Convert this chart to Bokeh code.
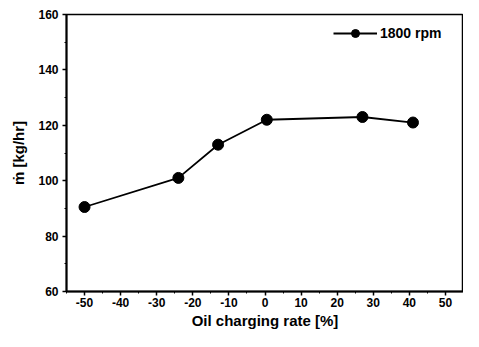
from bokeh.plotting import figure
from bokeh.models import Range1d, FixedTicker, Legend, LegendItem
from bokeh.embed import file_html
from bokeh.resources import INLINE

oil_rate = [-50, -24, -13, 0.5, 27, 41]
mass_flow = [90.5, 101, 113, 122, 123, 121]
x_ticks = [-50, -40, -30, -20, -10, 0, 10, 20, 30, 40, 50]
x_tick_labels = ["-50", "-40", "-30", "-20", "-10", "0", "10", "20", "30", "40", "50"]
y_ticks = [60, 80, 100, 120, 140, 160]

p = figure(width=463, height=331, output_backend="svg", toolbar_location=None,
           x_range=Range1d(-55, 55), y_range=Range1d(60, 160),
           min_border_left=66, min_border_right=0, min_border_top=14, min_border_bottom=36)
p.background_fill_color = "white"
p.border_fill_color = "white"
p.outline_line_color = "black"
p.outline_line_width = 1.5
p.xgrid.visible = False
p.ygrid.visible = False

font = "Liberation Sans"
for ax in (p.xaxis[0], p.yaxis[0]):
    ax.axis_line_width = 2
    ax.major_tick_line_width = 1.5
    ax.minor_tick_line_width = 1
    ax.major_tick_out = 4
    ax.major_tick_in = 0
    ax.minor_tick_out = 2
    ax.minor_tick_in = 0
    ax.major_label_text_font = font
    ax.major_label_text_font_style = "bold"
    ax.major_label_text_font_size = "12px"
    ax.major_label_text_color = "black"
    ax.axis_label_text_font = font
    ax.axis_label_text_font_style = "bold"
    ax.axis_label_text_font_size = "15px"
    ax.axis_label_text_color = "black"

p.xaxis.ticker = FixedTicker(ticks=x_ticks, minor_ticks=list(range(-55, 56, 5)))
p.yaxis.ticker = FixedTicker(ticks=y_ticks, minor_ticks=list(range(60, 161, 10)))
p.xaxis.major_label_overrides = {t: s for t, s in zip(x_ticks, x_tick_labels)}
p.xaxis.axis_label = "Oil charging rate [%]"
p.yaxis.axis_label = "ṁ [kg/hr]"
p.xaxis.major_label_standoff = 2
p.yaxis.major_label_standoff = 4
p.xaxis.axis_label_standoff = 2
p.yaxis.axis_label_standoff = 8

ln = p.line(oil_rate, mass_flow, line_color="black", line_width=1.8)
sc = p.scatter(oil_rate, mass_flow, size=11, fill_color="black", line_color="black")

legend = Legend(items=[LegendItem(label="1800 rpm", renderers=[ln, sc])],
                location=(267, 248), border_line_color=None, background_fill_alpha=0,
                label_text_font=font, label_text_font_style="bold", label_text_font_size="14px",
                label_text_color="black",
                glyph_width=44, label_standoff=3, margin=0, padding=4)
p.add_layout(legend)

open("out.html", "w").write(file_html(p, INLINE))
